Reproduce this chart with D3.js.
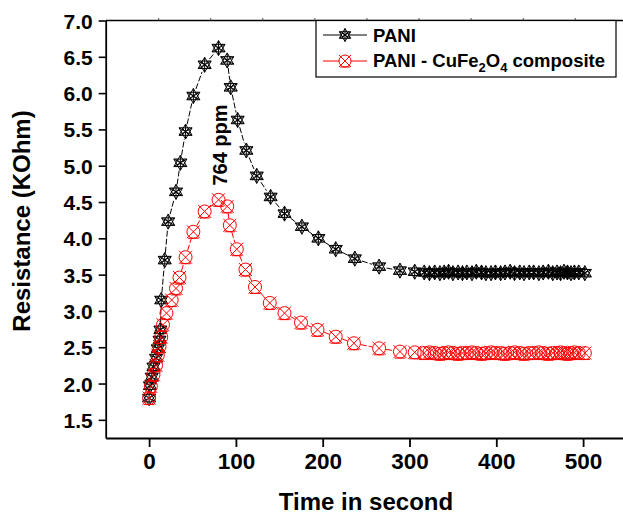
<!DOCTYPE html>
<html><head><meta charset="utf-8">
<script src="https://cdn.jsdelivr.net/npm/d3@7/dist/d3.min.js"></script>
<style>body{margin:0;background:#fff}svg{display:block}text{font-family:"Liberation Sans",Arial,sans-serif;font-weight:bold}</style>
</head><body>
<svg id="c" width="623" height="514"></svg>
<script>
// PANI (black stars)
const paniTime=[0,1,3,5,8,10,12,13,14,18,22,31,36,42,51,64,80,90,94,102,112,124,140,156,176,195,215,237,265,289,
306,317,323,329,335,340,345,350,356,361,366,372,377,383,388,394,399,405,410,416,421,427,432,438,443,449,454,460,465,470,474,478,482,486,490,495,502];
const paniRes=[1.80,1.97,2.09,2.23,2.35,2.48,2.60,2.74,3.15,3.70,4.23,4.64,5.04,5.47,5.96,6.39,6.62,6.45,6.08,5.63,5.21,4.86,4.57,4.34,4.16,4.00,3.85,3.72,3.61,3.555,
3.54,3.53,3.52,3.53,3.52,3.53,3.54,3.52,3.53,3.52,3.53,3.52,3.54,3.53,3.52,3.52,3.53,3.52,3.53,3.54,3.52,3.53,3.52,3.53,3.53,3.52,3.53,3.54,3.52,3.53,3.52,3.54,3.53,3.52,3.53,3.53,3.52];
// PANI - CuFe2O4 composite (red)
const compTime=[0,2,5,8,10,12,14,16,20,26,31,35,42,51,64,80,90,93,101,111,122,139,156,175,194,215,236,265,289,
306,317,323,329,335,340,345,350,356,361,366,372,377,383,388,394,399,405,410,416,421,427,432,438,443,449,454,460,465,470,474,478,482,486,490,495,502];
const compRes=[1.80,1.96,2.12,2.25,2.39,2.51,2.64,2.81,2.97,3.15,3.31,3.46,3.74,4.09,4.37,4.53,4.44,4.18,3.85,3.57,3.33,3.11,2.97,2.84,2.74,2.645,2.555,2.485,2.44,
2.43,2.42,2.43,2.42,2.41,2.42,2.43,2.42,2.41,2.42,2.42,2.43,2.42,2.41,2.42,2.43,2.42,2.42,2.41,2.42,2.43,2.42,2.41,2.42,2.42,2.43,2.42,2.41,2.42,2.42,2.43,2.42,2.41,2.42,2.43,2.42,2.42];
const xTicks=[0,100,200,300,400,500];
const yTicks=[1.5,2.0,2.5,3.0,3.5,4.0,4.5,5.0,5.5,6.0,6.5,7.0];
const topTicks=[11,71,131,191,251,311,371,431,491];
const xTitle="Time in second";
const yTitle="Resistance (KOhm)";
const annot="764 ppm";

(function(){
const svg=d3.select("#c");
const x=d3.scaleLinear().domain([-50,550]).range([105.7,626.5]);
const y=d3.scaleLinear().domain([1.25,7.0]).range([438,20.5]);

// frame
const pL=x(-50), pR=x(550), pT=y(7.0), pB=y(1.25);
svg.append("line").attr("x1",pL).attr("x2",pR).attr("y1",pT).attr("y2",pT).attr("stroke","#000").attr("stroke-width",1.3);
svg.append("line").attr("x1",pR).attr("x2",pR).attr("y1",pT).attr("y2",pB).attr("stroke","#000").attr("stroke-width",1.3);
svg.selectAll(".tt").data(topTicks).enter().append("line").attr("x1",d=>x(d)).attr("x2",d=>x(d)).attr("y1",pT-2.5).attr("y2",pT).attr("stroke","#555").attr("stroke-width",1);

// axes
const xAxis=d3.axisBottom(x).tickValues(xTicks).tickSize(9).tickSizeOuter(0).tickFormat(d3.format("d"));
const gx=svg.append("g").attr("transform",`translate(0,${pB})`).call(xAxis);
gx.attr("font-family",null).attr("font-size",null);
gx.select(".domain").attr("stroke","#000").attr("stroke-width",1.8);
gx.selectAll(".tick line").attr("stroke-width",1.8);
gx.selectAll(".tick text").attr("y",0).attr("dy",0).attr("transform","translate(0,31)").style("font-size","22.5px").attr("fill","#000");

const yAxis=d3.axisLeft(y).tickValues(yTicks).tickSize(7).tickSizeOuter(0).tickFormat(d3.format(".1f"));
const gy=svg.append("g").attr("transform",`translate(${pL},0)`).call(yAxis);
gy.attr("font-family",null).attr("font-size",null);
gy.select(".domain").attr("stroke","#000").attr("stroke-width",1.8);
gy.selectAll(".tick line").attr("stroke-width",1.6);
gy.selectAll(".tick text").attr("x",-13).attr("dy","0.36em").style("font-size","21px").attr("fill","#000");

// titles
svg.append("text").attr("x",366).attr("y",510).attr("text-anchor","middle").style("font-size","24px").text(xTitle);
svg.append("text").attr("transform","translate(29.5,221) rotate(-90)").attr("text-anchor","middle").style("font-size","24px").text(yTitle);
svg.append("text").attr("transform","translate(226.5,145) rotate(-90)").attr("text-anchor","middle").style("font-size","20px").text(annot);

// marker paths
function starPath(r){
  let p="";
  for(const a of [90,30,150]){const t=a*Math.PI/180;p+=`M${(r*Math.cos(t)).toFixed(2)},${(-r*Math.sin(t)).toFixed(2)}L${(-r*Math.cos(t)).toFixed(2)},${(r*Math.sin(t)).toFixed(2)}`;}
  for(const off of [90,270]){
    const pts=[0,1,2].map(i=>{const t=(off+i*120)*Math.PI/180;return [r*Math.cos(t),-r*Math.sin(t)];});
    p+="M"+pts.map(q=>q[0].toFixed(2)+","+q[1].toFixed(2)).join("L")+"Z";
  }
  const s=r*0.55;
  p+=`M${-s},${-s}L${s},${s}M${s},${-s}L${-s},${s}`;
  return p;
}
function crossCirclePath(r){
  return `M${r},0A${r},${r} 0 1,1 ${-r},0A${r},${r} 0 1,1 ${r},0Z`+
    `M${-r},${-r}L${r},${r}M${r},${-r}L${-r},${r}M${-r*0.8},${r}L${r*0.8},${r}`;
}

function drawSeries(times,vals,color,path,gap,dash){
  const pts=times.map((t,i)=>[x(t),y(vals[i])]);
  const g=svg.append("g");
  for(let i=0;i<pts.length-1;i++){
    const [x1,y1]=pts[i],[x2,y2]=pts[i+1];
    const dx=x2-x1,dy=y2-y1,L=Math.hypot(dx,dy);
    if(L<=2*gap+1)continue;
    const ux=dx/L,uy=dy/L;
    g.append("line").attr("x1",x1+ux*gap).attr("y1",y1+uy*gap).attr("x2",x2-ux*gap).attr("y2",y2-uy*gap)
     .attr("stroke",color).attr("stroke-width",1).attr("stroke-dasharray",dash);
  }
  g.selectAll("path.m").data(pts).enter().append("path").attr("class","m")
   .attr("transform",d=>`translate(${d[0]},${d[1]})`).attr("d",path)
   .attr("fill","none").attr("stroke",color).attr("stroke-width",1);
}
drawSeries(paniTime,paniRes,"#000",starPath(7.5),7.5,"6,2");
drawSeries(compTime,compRes,"#ff0000",crossCirclePath(6.5),7,"6,2");

// legend
const lg=svg.append("g");
lg.append("rect").attr("x",316).attr("y",pT).attr("width",300).attr("height",56.5).attr("fill","#fff").attr("stroke","#000").attr("stroke-width",1.2);
const items=[{c:"#000",p:starPath(6.5),y:35},{c:"#ff0000",p:crossCirclePath(6),y:61}];
items.forEach(it=>{
  lg.append("line").attr("x1",323).attr("x2",367).attr("y1",it.y).attr("y2",it.y).attr("stroke",it.c).attr("stroke-width",1);
  lg.append("path").attr("transform",`translate(345,${it.y})`).attr("d",it.p).attr("fill","#fff").attr("stroke",it.c).attr("stroke-width",1);
});
lg.append("text").attr("x",373).attr("y",41.5).style("font-size","18.5px").text("PANI");
const t2=lg.append("text").attr("x",373).attr("y",66.5).style("font-size","18.5px");
t2.append("tspan").text("PANI - CuFe");
t2.append("tspan").attr("dy",5).style("font-size","13px").text("2");
t2.append("tspan").attr("dy",-5).text("O");
t2.append("tspan").attr("dy",5).style("font-size","13px").text("4");
t2.append("tspan").attr("dy",-5).text(" composite");
})();
</script>
</body></html>
